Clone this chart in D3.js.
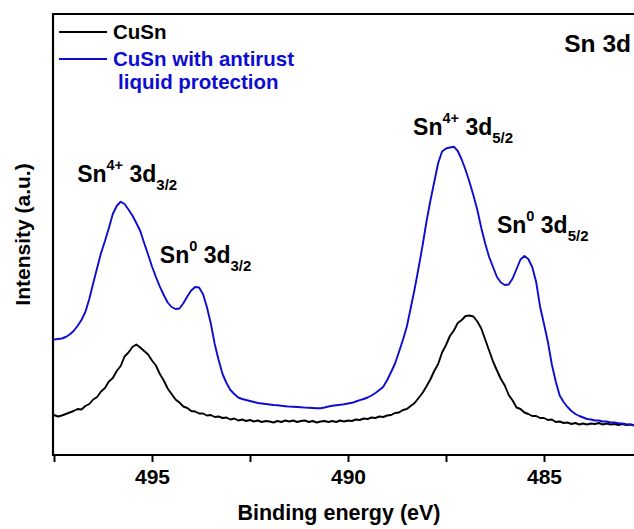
<!DOCTYPE html>
<html>
<head>
<meta charset="utf-8">
<script src="https://cdn.jsdelivr.net/npm/d3@7"></script>
<style>
  body { margin: 0; background: #fff; }
  svg { display: block; }
  text { font-family: "Liberation Sans", Arial, Helvetica, sans-serif; font-weight: bold; }
</style>
</head>
<body>
<svg id="chart" width="634" height="529"></svg>
<script>
// Sn 3d XPS spectra, binding energy sampled every 0.1 eV (497.5 → 482.5 eV)
const energy = [
  497.5,497.4,497.3,497.2,497.1,497.0,496.9,496.8,496.7,496.6,
  496.5,496.4,496.3,496.2,496.1,496.0,495.9,495.8,495.7,495.6,
  495.5,495.4,495.3,495.2,495.1,495.0,494.9,494.8,494.7,494.6,
  494.5,494.4,494.3,494.2,494.1,494.0,493.9,493.8,493.7,493.6,
  493.5,493.4,493.3,493.2,493.1,493.0,492.9,492.8,492.7,492.6,
  492.5,492.4,492.3,492.2,492.1,492.0,491.9,491.8,491.7,491.6,
  491.5,491.4,491.3,491.2,491.1,491.0,490.9,490.8,490.7,490.6,
  490.5,490.4,490.3,490.2,490.1,490.0,489.9,489.8,489.7,489.6,
  489.5,489.4,489.3,489.2,489.1,489.0,488.9,488.8,488.7,488.6,
  488.5,488.4,488.3,488.2,488.1,488.0,487.9,487.8,487.7,487.6,
  487.5,487.4,487.3,487.2,487.1,487.0,486.9,486.8,486.7,486.6,
  486.5,486.4,486.3,486.2,486.1,486.0,485.9,485.8,485.7,485.6,
  485.5,485.4,485.3,485.2,485.1,485.0,484.9,484.8,484.7,484.6,
  484.5,484.4,484.3,484.2,484.1,484.0,483.9,483.8,483.7,483.6,
  483.5,483.4,483.3,483.2,483.1,483.0,482.9,482.8,482.7,482.6,
  482.5
];

// CuSn (untreated), intensity in a.u.
const cusn = [
  40,38.5,39.5,41,42.5,44,46,45.5,49,51,
  55.5,58,63.5,67,73.5,77,84,89,98.5,102.5,
  108,110.5,107.5,104,100.5,94.5,89.5,81,74.5,66.5,
  61,55.5,52.5,48.5,47,44,43.5,41.5,41.5,39.5,
  40,38,38.5,37,37.5,35.5,36.5,34.5,35.5,34,
  35,33.5,34.5,33,34,33.5,32.5,34,33,34.5,
  33.5,34.5,33,34,34.5,33,34,32.5,33.5,34,
  33,34,33,34.5,33.5,34.5,34,35.5,35,36.5,
  36,37.5,37,38.5,38,39.5,40,42,42.5,45,
  46,49,52,57,62,68.5,75.5,84,91,102.5,
  110,119,124.5,132,135,139,139.5,138.5,133.5,126.5,
  115.5,104.5,93.5,84.5,76,69.5,60,54.5,47.5,46,
  42.5,41,39,39,37,37,35,35.5,33,33.5,
  32,32.5,31,32,30.5,31.5,30.5,31.5,31,32,
  30.5,31.5,30.5,31,30,31,30,30.5,29.5,30,
  29.5
];

// CuSn with antirust liquid protection, intensity in a.u.
const cusnProtected = [
  115.5,116,116.5,118,120.5,124,129,135,143,156,
  171.7,187,202,214,227,241,249,253.3,251,245.5,
  239.5,232,224,212,200.5,188.5,178,168.3,160,152.5,
  148,146,146.5,151.7,158.5,164.5,168,167.5,161,148,
  131.5,111,95,81,72,65,61,57.5,56,55,
  54,53,52,51.5,51,50.5,50,49.7,49.2,48.8,
  48.4,48.2,48,47.7,47.4,47.2,47,46.8,46.7,47.5,
  48.5,49.2,49.7,50.2,50.8,51.5,52.2,53.5,54.8,56,
  57.5,59.5,62,65,68.3,75,83,91.5,103,115,
  128.3,147,166,187,209,233,254,273,292,303.5,
  306.5,307.5,308.3,304,295.5,285,273,259.5,245,227,
  211.5,198,188,178,172.5,170,170.5,176.5,186,195.5,
  199,196,188,173,148.3,131,113,90.5,73.5,59.5,
  53,48,44,41,39,37.5,36,35.5,34.5,34.5,
  33.5,33.5,32.5,32.5,31.7,31.5,30.8,30.6,30,29.9,
  29.5
];

const seriesLabels = ["CuSn", "CuSn with antirust", "liquid protection"];
const seriesColors = ["#000000", "#0d0dd2"];
const xTickValues = [497.5, 495, 492.5, 490, 487.5, 485, 482.5];
const xLabeledTicks = [495, 490, 485];

// Peak annotations: charge state (superscript) and spin-orbit component (subscript)
const peakLabels = [
  { E: 496.91, I: 273, sup: "4+", sub: "3/2" },
  { E: 494.80, I: 192, sup: "0",  sub: "3/2" },
  { E: 488.34, I: 320, sup: "4+", sub: "5/2" },
  { E: 486.20, I: 222, sup: "0",  sub: "5/2" }
];

const svg = d3.select("#chart");
const W = 634;
const plot = { left: 53, top: 14, bottom: 455, right: 642 };

const x = d3.scaleLinear().domain([497.5, 482.5]).range([plot.left + 1, plot.right]);
const y = d3.scaleLinear().domain([0, 441]).range([plot.bottom, plot.top]);

svg.append("defs").append("clipPath").attr("id", "plotClip")
  .append("rect")
  .attr("x", plot.left).attr("y", plot.top)
  .attr("width", plot.right - plot.left).attr("height", plot.bottom - plot.top);

const line = d3.line()
  .x((d, i) => x(energy[i]))
  .y(d => y(d));

const curves = svg.append("g").attr("clip-path", "url(#plotClip)");
[[cusn, 0], [cusnProtected, 1]].forEach(([data, k]) => {
  curves.append("path")
    .datum(data)
    .attr("d", line)
    .attr("fill", "none")
    .attr("stroke", seriesColors[k])
    .attr("stroke-width", 1.9)
    .attr("stroke-linejoin", "round");
});

// Frame: left spine, top spine, bottom axis
svg.append("line")
  .attr("x1", plot.left).attr("x2", plot.left)
  .attr("y1", plot.top - 1).attr("y2", plot.bottom + 1)
  .attr("stroke", "#000").attr("stroke-width", 2.2);
svg.append("line")
  .attr("x1", plot.left - 1).attr("x2", W)
  .attr("y1", plot.top).attr("y2", plot.top)
  .attr("stroke", "#000").attr("stroke-width", 2.2);

const xAxis = d3.axisBottom(x)
  .tickValues(xTickValues)
  .tickSize(7)
  .tickSizeOuter(0)
  .tickPadding(7)
  .tickFormat(d => xLabeledTicks.includes(d) ? d3.format("d")(d) : "");

const gx = svg.append("g")
  .attr("transform", `translate(0,${plot.bottom})`)
  .call(xAxis);
gx.select(".domain").attr("stroke-width", 2.2).attr("d", `M${plot.left - 1},0H${W}`);
gx.selectAll(".tick line").attr("stroke-width", 2);
gx.selectAll(".tick text")
  .style("font-size", "21px")
  .style("font-family", "'Liberation Sans', Arial, sans-serif")
  .style("font-weight", "bold")
  .attr("fill", "#000");

// Axis titles
svg.append("text")
  .attr("x", 339).attr("y", 520)
  .attr("text-anchor", "middle")
  .style("font-size", "21.5px")
  .text("Binding energy (eV)");

svg.append("text")
  .attr("transform", `translate(30,${(plot.top + plot.bottom) / 2}) rotate(-90)`)
  .attr("text-anchor", "middle")
  .style("font-size", "21px")
  .text("Intensity (a.u.)");

// Legend
const legend = svg.append("g");
[[0, 32], [1, 59]].forEach(([k, yy]) => {
  legend.append("line")
    .attr("x1", 59).attr("x2", 107).attr("y1", yy).attr("y2", yy)
    .attr("stroke", seriesColors[k]).attr("stroke-width", 2.2);
  legend.append("text")
    .attr("x", 113).attr("y", yy + 7)
    .attr("fill", seriesColors[k])
    .style("font-size", "20.5px")
    .text(seriesLabels[k]);
});
legend.append("text")
  .attr("x", 118).attr("y", 89)
  .attr("fill", seriesColors[1])
  .style("font-size", "20.5px")
  .text(seriesLabels[2]);

// Region label
svg.append("text")
  .attr("x", 631).attr("y", 52)
  .attr("text-anchor", "end")
  .style("font-size", "24.5px")
  .text("Sn 3d");

// Peak labels with charge-state superscripts and spin-orbit subscripts
peakLabels.forEach(p => {
  const t = svg.append("text")
    .attr("x", x(p.E)).attr("y", y(p.I))
    .style("font-size", "23px");
  t.append("tspan").text("Sn");
  t.append("tspan").attr("dy", -12).style("font-size", "14.5px").text(p.sup);
  t.append("tspan").attr("dy", 12).text("\u00a03d");
  t.append("tspan").attr("dy", 8).style("font-size", "15px").text(p.sub);
});
</script>
</body>
</html>
